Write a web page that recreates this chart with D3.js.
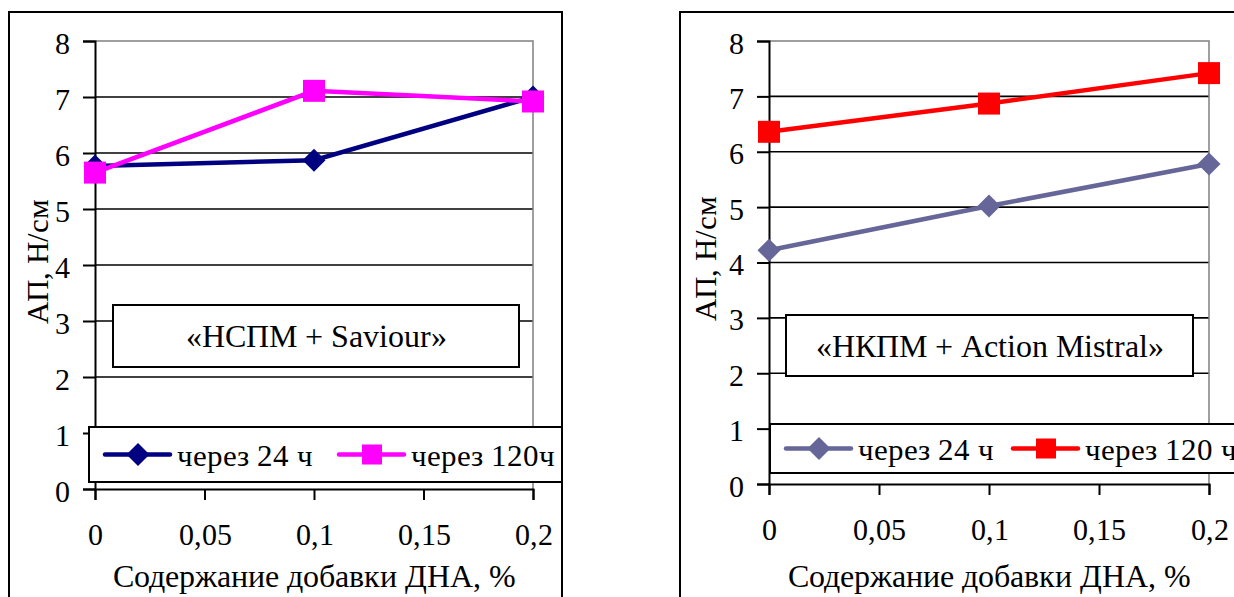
<!DOCTYPE html>
<html>
<head>
<meta charset="utf-8">
<script src="https://cdn.jsdelivr.net/npm/d3@7"></script>
<style>
  @font-face { font-family: "RefSerif"; src: local("Liberation Serif"), local("LiberationSerif"), local("Times New Roman"); }
  body { margin: 0; background: #fff; }
  svg { display: block; }
</style>
</head>
<body>
<svg id="chart" width="1234" height="597"></svg>
<script>
// ---------- данные ----------
const xValues = [0, 0.1, 0.2];
const xTicks = [0, 0.05, 0.1, 0.15, 0.2];
const xTickLabels = ["0", "0,05", "0,1", "0,15", "0,2"];
const yTicks = [0, 1, 2, 3, 4, 5, 6, 7, 8];

const leftAfter24 = [5.77, 5.87, 7.0];
const leftAfter120 = [5.65, 7.11, 6.92];
const rightAfter24 = [4.22, 5.02, 5.78];
const rightAfter120 = [6.36, 6.87, 7.42];

const leftLegend = ["через 24 ч", "через 120ч"];
const rightLegend = ["через 24 ч", "через 120 ч"];
const xTitle = "Содержание добавки ДНА, %";
const yTitle = "АП, Н/см";

const FONT = `RefSerif, "Liberation Serif"`;

const svg = d3.select("#chart");

// ромб = квадрат, повёрнутый на 45°
const diamondPath = d3.symbol().type(d3.symbolSquare).size(2 * 11.5 * 11.5)();
const squarePath = d3.symbol().type(d3.symbolSquare).size(22 * 22)();
const legendSquare = d3.symbol().type(d3.symbolSquare).size(20 * 20)();

function label(sel, size) {
  return sel
    .style("font-family", FONT)
    .attr("font-size", size)
    .attr("fill", "#000");
}

function drawPanel(p) {
  const g = svg.append("g");

  // внешняя рамка
  g.append("rect")
    .attr("x", p.frame[0]).attr("y", p.frame[1])
    .attr("width", p.frame[2]).attr("height", p.frame[3])
    .attr("fill", "#fff").attr("stroke", "#000").attr("stroke-width", 2);

  const x = d3.scaleLinear().domain([0, 0.2]).range([p.left, p.right]);
  const y = d3.scaleLinear().domain([0, 8]).range([p.bottom, p.top]);

  // сетка
  g.append("g")
    .selectAll("line")
    .data(yTicks.filter((t) => t > 0 && t < 8))
    .join("line")
    .attr("x1", p.left).attr("x2", p.right)
    .attr("y1", (d) => y(d)).attr("y2", (d) => y(d))
    .attr("stroke", "#000").attr("stroke-width", 1.6);

  // граница области построения (серая)
  g.append("path")
    .attr("d", `M${p.left},${y(8)}H${p.right}V${y(0)}`)
    .attr("fill", "none").attr("stroke", "#808080").attr("stroke-width", 1.5);

  // оси
  const yAxis = g.append("g")
    .attr("transform", `translate(${p.left},0)`)
    .call(d3.axisLeft(y).tickValues(yTicks).tickSize(12).tickPadding(13).tickFormat(d3.format("d")));
  const xAxis = g.append("g")
    .attr("transform", `translate(0,${p.bottom})`)
    .call(d3.axisBottom(x).tickValues(xTicks).tickSize(11).tickPadding(24)
      .tickFormat((d, i) => xTickLabels[i]));
  for (const ax of [yAxis, xAxis]) {
    ax.attr("font-family", null).attr("font-size", 30);
    ax.select(".domain").attr("stroke", "#000").attr("stroke-width", 2);
    ax.selectAll(".tick line").attr("stroke", "#000").attr("stroke-width", 2);
    label(ax.selectAll("text"), 30);
  }
  yAxis.selectAll("text").attr("dy", "0.40em");

  // подписи осей
  label(g.append("text"), 31)
    .attr("transform", `translate(${p.yTitleX},${(p.top + p.bottom) / 2 - 4}) rotate(-90)`)
    .attr("text-anchor", "middle").attr("dy", "0.35em")
    .text(yTitle);
  label(g.append("text"), 32)
    .attr("x", (p.left + p.right) / 2).attr("y", 587)
    .attr("text-anchor", "middle").text(xTitle);

  // рамка с названием системы
  g.append("rect")
    .attr("x", p.note[0]).attr("y", p.note[1]).attr("width", p.note[2]).attr("height", p.note[3])
    .attr("fill", "#fff").attr("stroke", "#000").attr("stroke-width", 2);
  label(g.append("text"), 32)
    .attr("x", p.note[0] + p.note[2] / 2).attr("y", p.note[1] + p.note[3] / 2)
    .attr("text-anchor", "middle").attr("dy", "0.35em")
    .text(p.noteText);

  // линии и маркеры
  const line = d3.line().x((d, i) => x(xValues[i])).y((d) => y(d));
  p.series.forEach((s) => {
    g.append("path")
      .datum(s.values)
      .attr("d", line)
      .attr("fill", "none").attr("stroke", s.color).attr("stroke-width", 4.5);
    g.append("g")
      .selectAll("path")
      .data(s.values)
      .join("path")
      .attr("d", s.diamond ? diamondPath : squarePath)
      .attr("transform", (d, i) => `translate(${x(xValues[i])},${y(d)})${s.diamond ? " rotate(45)" : ""}`)
      .attr("fill", s.color);
  });

  // легенда
  g.append("rect")
    .attr("x", p.legend[0]).attr("y", p.legend[1]).attr("width", p.legend[2]).attr("height", p.legend[3])
    .attr("fill", "#fff").attr("stroke", "#000").attr("stroke-width", 2);
  const ly = p.legend[1] + p.legend[3] / 2;
  p.series.forEach((s, i) => {
    const lx = p.legendItems[i];
    g.append("line")
      .attr("x1", lx).attr("x2", lx + 65).attr("y1", ly).attr("y2", ly)
      .attr("stroke", s.color).attr("stroke-width", 4.5).attr("stroke-linecap", "round");
    g.append("path")
      .attr("d", s.diamond ? diamondPath : legendSquare)
      .attr("transform", `translate(${lx + 33},${ly})${s.diamond ? " rotate(45)" : ""}`)
      .attr("fill", s.color);
    label(g.append("text"), 31)
      .attr("x", lx + 72).attr("y", ly).attr("dy", "0.38em")
      .text(p.legendText[i]);
  });
}

drawPanel({
  frame: [9, 12, 553, 600],
  left: 95, right: 533, top: 41, bottom: 489,
  yTitleX: 37,
  note: [113, 305, 406, 62],
  noteText: "«НСПМ + Saviour»",
  legend: [89, 427, 473, 55],
  legendItems: [105, 339],
  legendText: leftLegend,
  series: [
    { values: leftAfter24, color: "#000080", diamond: true },
    { values: leftAfter120, color: "#ff00ff", diamond: false },
  ],
});

drawPanel({
  frame: [680, 12, 600, 600],
  left: 769, right: 1209, top: 41, bottom: 484,
  yTitleX: 705,
  note: [786, 315, 407, 61],
  noteText: "«НКПМ + Action Mistral»",
  legend: [770, 424, 500, 49],
  legendItems: [786, 1013],
  legendText: rightLegend,
  series: [
    { values: rightAfter24, color: "#666699", diamond: true },
    { values: rightAfter120, color: "#ff0000", diamond: false },
  ],
});
</script>
</body>
</html>
